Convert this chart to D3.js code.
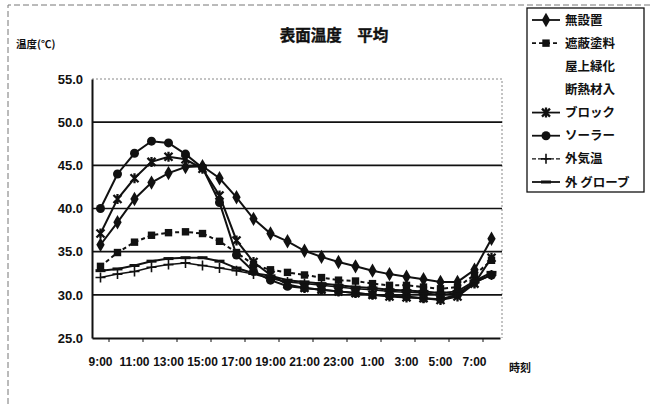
<!DOCTYPE html>
<html>
<head>
<meta charset="utf-8">
<script src="https://cdn.jsdelivr.net/npm/d3@7"></script>
<style>
  html, body { margin: 0; padding: 0; background: #fff; }
  svg { display: block; }
  .jp { font-family: "Noto Sans CJK JP", sans-serif; font-weight: 700; }
  .num { font-family: "Liberation Sans Narrow", "Arial Narrow", "Liberation Sans", sans-serif; font-weight: 700; }
</style>
</head>
<body>
<svg id="chart" width="658" height="408"></svg>
<script>
// Hourly categories, 9:00 through 8:00 the next morning
const hours = ["9:00","10:00","11:00","12:00","13:00","14:00","15:00","16:00","17:00","18:00",
  "19:00","20:00","21:00","22:00","23:00","0:00","1:00","2:00","3:00","4:00","5:00","6:00","7:00","8:00"];
const hourLabels = ["9:00","11:00","13:00","15:00","17:00","19:00","21:00","23:00","1:00","3:00","5:00","7:00"];
const yTicks = [25, 30, 35, 40, 45, 50, 55];

// Surface temperature (°C), average per hour
const noInstall   = [35.8, 38.4, 41.1, 43.0, 44.1, 44.8, 44.9, 43.5, 41.3, 38.8, 37.1, 36.2,
                     35.1, 34.4, 33.8, 33.3, 32.8, 32.4, 32.1, 31.8, 31.5, 31.5, 32.9, 36.5];
const shadeCoat   = [33.3, 34.9, 36.1, 36.9, 37.2, 37.3, 37.1, 36.2, 34.9, 33.5, 32.9, 32.6,
                     32.3, 32.0, 31.7, 31.6, 31.3, 31.1, 31.1, 30.9, 30.7, 30.9, 32.3, 34.0];
const greenRoof   = [];
const insulation  = [];
const block       = [37.1, 41.1, 43.5, 45.4, 46.0, 45.7, 44.6, 41.5, 36.3, 33.8, 32.3, 31.2,
                     30.8, 30.6, 30.4, 30.2, 30.0, 29.8, 29.7, 29.6, 29.4, 29.8, 31.3, 34.3];
const solar       = [40.0, 44.0, 46.4, 47.8, 47.6, 46.3, 44.7, 40.7, 34.6, 32.7, 31.7, 31.0,
                     30.8, 30.6, 30.4, 30.2, 30.0, 29.9, 29.8, 29.6, 29.5, 30.0, 31.5, 32.3];
const outsideAir  = [32.0, 32.4, 32.7, 33.2, 33.5, 33.7, 33.4, 33.1, 32.8, 32.4, 31.9, 31.5,
                     31.3, 31.1, 30.9, 30.7, 30.6, 30.4, 30.3, 30.2, 30.0, 30.2, 31.4, 32.3];
const outsideGlobe= [32.8, 33.0, 33.4, 33.9, 34.2, 34.3, 34.3, 33.9, 33.1, 32.5, 32.2, 31.7,
                     31.5, 31.3, 31.1, 30.9, 30.8, 30.6, 30.5, 30.4, 30.2, 30.4, 31.6, 32.6];

const seriesNames = ["無設置","遮蔽塗料","屋上緑化","断熱材入","ブロック","ソーラー","外気温","外 グローブ"];
const seriesValues = [noInstall, shadeCoat, greenRoof, insulation, block, solar, outsideAir, outsideGlobe];
const seriesMarkers = ["diamond","square","none","none","asterisk","circle","plus","dash"];
const seriesDash = [null, "4,3", null, null, null, null, null, null];

const svg = d3.select("#chart");
const plot = { left: 92, right: 500, top: 79, bottom: 338 };

const x = d3.scaleBand().domain(hours).range([plot.left, plot.right]);
const xc = h => x(h) + x.bandwidth() / 2;
const y = d3.scaleLinear().domain([25, 55]).range([plot.bottom, plot.top]);

// Outer frame (dashed)
svg.append("path")
  .attr("d", "M8,404 L8,5 L652,5")
  .attr("fill", "none").attr("stroke", "#777").attr("stroke-width", 1)
  .attr("stroke-dasharray", "6,3");

// Plot frame: top and right edges drawn light and dotted
svg.append("path")
  .attr("d", `M${plot.left},${plot.top} L${plot.right + 2},${plot.top} L${plot.right + 2},${plot.bottom}`)
  .attr("fill", "none").attr("stroke", "#888").attr("stroke-width", 1)
  .attr("stroke-dasharray", "2,2");

// Horizontal gridlines
svg.append("g").selectAll("line")
  .data(yTicks.filter(v => v > 25 && v < 55))
  .join("line")
  .attr("x1", plot.left).attr("x2", plot.right + 2)
  .attr("y1", d => y(d)).attr("y2", d => y(d))
  .attr("stroke", "#111").attr("stroke-width", 1.6);

// Y axis
const yAxis = svg.append("g")
  .attr("transform", `translate(${plot.left},0)`)
  .call(d3.axisLeft(y).tickValues(yTicks).tickFormat(d3.format(".1f")).tickSize(0).tickPadding(9));
yAxis.select(".domain").attr("stroke", "#111").attr("stroke-width", 2);
yAxis.selectAll("text").attr("class", "num").attr("font-size", 13).attr("fill", "#111");

// X axis
const xAxis = svg.append("g")
  .attr("transform", `translate(0,${plot.bottom})`)
  .call(d3.axisBottom(x).tickValues(hourLabels).tickSize(0).tickPadding(19));
xAxis.select(".domain").attr("stroke", "#111").attr("stroke-width", 2.2);
xAxis.selectAll("text").attr("class", "num").attr("font-size", 12).attr("fill", "#111");
// small tick marks between the labelled hours
svg.append("g").selectAll("line")
  .data(hourLabels)
  .join("line")
  .attr("x1", d => x(d) + x.bandwidth()).attr("x2", d => x(d) + x.bandwidth())
  .attr("y1", plot.bottom).attr("y2", plot.bottom + 4)
  .attr("stroke", "#111").attr("stroke-width", 1);

// Titles
svg.append("text").attr("class", "jp").attr("x", 334).attr("y", 41)
  .attr("text-anchor", "middle").attr("font-size", 15.5).attr("fill", "#111")
  .attr("stroke", "#111").attr("stroke-width", 0.4)
  .text("表面温度　平均");
svg.append("text").attr("class", "jp").attr("x", 16).attr("y", 48)
  .attr("font-size", 10.5).attr("fill", "#111").text("温度(℃)");
svg.append("text").attr("class", "jp").attr("x", 509).attr("y", 372)
  .attr("font-size", 11).attr("fill", "#111").text("時刻");

// Marker drawing
function drawMarker(g, type, cx, cy) {
  const c = "#111";
  if (type === "circle") {
    g.append("circle").attr("cx", cx).attr("cy", cy).attr("r", 4.5).attr("fill", c);
  } else if (type === "diamond") {
    g.append("path").attr("d", d3.symbol(d3.symbolDiamond, 60)()).attr("transform", `translate(${cx},${cy})`).attr("fill", c);
  } else if (type === "square") {
    g.append("rect").attr("x", cx - 3.7).attr("y", cy - 3.7).attr("width", 7.4).attr("height", 7.4).attr("fill", c);
  } else if (type === "asterisk") {
    g.append("path").attr("d", `M${cx-4},${cy-4}L${cx+4},${cy+4}M${cx+4},${cy-4}L${cx-4},${cy+4}M${cx},${cy-5}L${cx},${cy+5}`)
      .attr("stroke", c).attr("stroke-width", 2.3);
  } else if (type === "plus") {
    g.append("path").attr("d", `M${cx-5},${cy}L${cx+5},${cy}M${cx},${cy-5}L${cx},${cy+5}`)
      .attr("stroke", c).attr("stroke-width", 1.6);
  } else if (type === "dash") {
    g.append("path").attr("d", `M${cx-5},${cy}L${cx+5},${cy}`).attr("stroke", c).attr("stroke-width", 3);
  }
}

// Series lines and markers
const line = d3.line().x(d => xc(d.h)).y(d => y(d.v));
seriesValues.forEach((vals, i) => {
  if (!vals.length) return;
  const pts = vals.map((v, k) => ({ h: hours[k], v }));
  const g = svg.append("g");
  g.append("path").datum(pts).attr("d", line)
    .attr("fill", "none").attr("stroke", "#111")
    .attr("stroke-width", i === 6 ? 1.5 : 2)
    .attr("stroke-dasharray", seriesDash[i]);
  pts.forEach(p => drawMarker(g, seriesMarkers[i], xc(p.h), y(p.v)));
});

// Legend
const legend = svg.append("g");
legend.append("rect").attr("x", 527).attr("y", 8).attr("width", 117).attr("height", 184)
  .attr("fill", "#fff").attr("stroke", "#111").attr("stroke-width", 1.3);
const legendY = d3.scalePoint().domain(seriesNames).range([20, 182]);
seriesNames.forEach((name, i) => {
  const ly = legendY(name);
  if (seriesValues[i].length) {
    legend.append("line").attr("x1", 532).attr("x2", 560).attr("y1", ly).attr("y2", ly)
      .attr("stroke", "#111").attr("stroke-width", i === 6 ? 1.2 : 1.8)
      .attr("stroke-dasharray", i === 6 ? "4,2" : seriesDash[i]);
    drawMarker(legend, seriesMarkers[i], 546, ly);
  }
  legend.append("text").attr("class", "jp").attr("x", 565).attr("y", ly + 4.5)
    .attr("font-size", 12.5).attr("fill", "#111").text(name);
});
</script>
</body>
</html>
